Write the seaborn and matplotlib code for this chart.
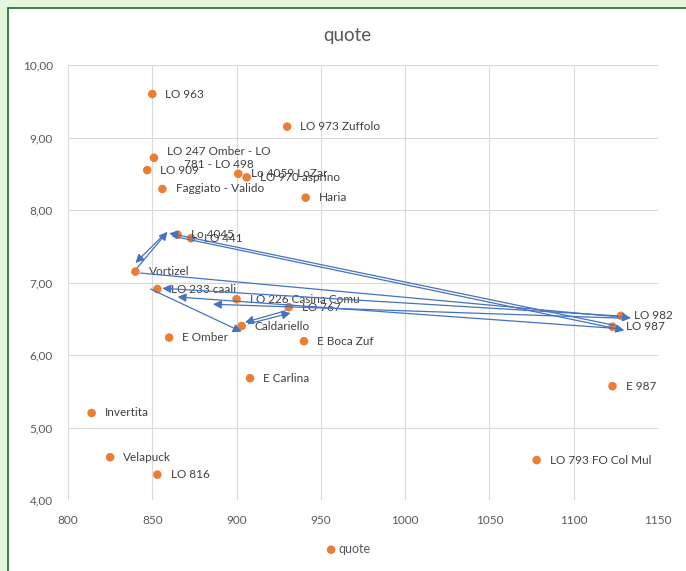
import matplotlib
matplotlib.use("Agg")
import matplotlib.pyplot as plt
from matplotlib.patches import Rectangle
from matplotlib.lines import Line2D
from matplotlib.ticker import FuncFormatter
import seaborn as sns
import pandas as pd

# --- data -------------------------------------------------------------
etichette = [
    "LO 963", "LO 973 Zuffolo", "LO 247 Omber - LO\n781 - LO 498", "LO 909",
    "Lo 4059 LoZar", "LO 970 asprino", "Faggiato - Valido", "Haria",
    "Lo 4045", "LO 441", "Vortizel", "LO 233 caali", "LO 226 Casina Comu",
    "LO 767", "Caldariello", "E Omber", "E Boca Zuf", "E Carlina",
    "Invertita", "Velapuck", "LO 816", "LO 982", "LO 987", "E 987",
    "LO 793 FO Col Mul",
]
altitudine = [850, 930, 851, 847, 901, 906, 856, 941, 865, 873, 840, 853, 900,
              931, 903, 860, 940, 908, 814, 825, 853, 1128, 1123, 1123, 1078]
quote = [9.60, 9.15, 8.72, 8.55, 8.50, 8.45, 8.29, 8.17, 7.66, 7.61, 7.15, 6.91,
         6.77, 6.66, 6.40, 6.24, 6.19, 5.68, 5.20, 4.59, 4.35, 6.54, 6.39, 5.57,
         4.55]

# percorso tracciato a mano sopra il grafico: (x0, y0) -> (x1, y1)
frecce_x0 = [841, 856, 862, 1124, 843, 1126, 1123, 1126, 849, 907, 929]
frecce_y0 = [7.20, 7.64, 7.64, 6.41, 7.13, 6.54, 6.37, 6.51, 6.91, 6.43, 6.61]
frecce_x1 = [859, 840, 1130, 860, 1134, 856, 865, 886, 903, 932, 905]
frecce_y1 = [7.70, 7.27, 6.34, 7.68, 6.51, 6.92, 6.80, 6.70, 6.32, 6.58, 6.45]

xticks = [800, 850, 900, 950, 1000, 1050, 1100, 1150]
yticks = [4, 5, 6, 7, 8, 9, 10]

df = pd.DataFrame({"altitudine": altitudine, "quote": quote, "nome": etichette})

# --- style --------------------------------------------------------------
sns.set_theme(style="white")
plt.rcParams["font.family"] = ["Lato", "DejaVu Sans"]

GRIGIO = "#595959"
ARANCIO = "#ED7D31"
BLU = "#4472C4"

fig = plt.figure(figsize=(6.86, 5.71), dpi=100, facecolor="#E4F5E0")

# chart area with the green frame on the left and top
fig.patches.append(Rectangle((9 / 686, 0), 1 - 9 / 686, 1 - 9 / 571,
                             transform=fig.transFigure, facecolor="white",
                             edgecolor="none", zorder=-10))
fig.lines.append(Line2D([8 / 686, 8 / 686], [0, 1 - 8 / 571],
                        transform=fig.transFigure, color="#1F6E2A", lw=1.2,
                        zorder=-9))
fig.lines.append(Line2D([8 / 686, 1], [1 - 8 / 571, 1 - 8 / 571],
                        transform=fig.transFigure, color="#1F6E2A", lw=1.2,
                        zorder=-9))

ax = fig.add_axes([68 / 686, 1 - 500 / 571, 590 / 686, 435 / 571])
ax.set_facecolor("none")

sns.scatterplot(data=df, x="altitudine", y="quote", color=ARANCIO, s=38,
                edgecolor="none", ax=ax, label="quote", zorder=3)

for nome, xv, yv in zip(etichette, altitudine, quote):
    ax.annotate(nome, (xv, yv), xytext=(9.5, 0), textcoords="offset points",
                ha="left", va="center", multialignment="center",
                fontsize=8.5, color="#404040", zorder=4)

for x0, y0, x1, y1 in zip(frecce_x0, frecce_y0, frecce_x1, frecce_y1):
    ax.annotate("", xy=(x1, y1), xytext=(x0, y0),
                arrowprops=dict(arrowstyle="-|>", color=BLU, lw=0.9,
                                mutation_scale=12.5, shrinkA=0, shrinkB=0),
                zorder=5)

ax.set_xlim(800, 1150)
ax.set_ylim(4, 10)
ax.set_xticks(xticks)
ax.set_yticks(yticks)
ax.yaxis.set_major_formatter(FuncFormatter(lambda v, p: f"{v:.2f}".replace(".", ",")))
ax.grid(True, color="#D9D9D9", lw=0.8)
ax.set_axisbelow(True)
for s in ax.spines.values():
    s.set_visible(False)
ax.tick_params(length=0, labelsize=8.5, labelcolor=GRIGIO, pad=11)
ax.set_xlabel("")
ax.set_ylabel("")

handles, labels = ax.get_legend_handles_labels()
ax.get_legend().remove()
fig.legend(handles, labels, loc="center", bbox_to_anchor=(0.507, 1 - 549 / 571),
           frameon=False, fontsize=9, labelcolor=GRIGIO, handletextpad=0.1,
           handlelength=1.0, markerscale=1.0)

fig.text(0.507, 1 - 35 / 571, "quote", ha="center", va="center",
         fontsize=13.5, color=GRIGIO)

fig.savefig("out.png", dpi=100, facecolor=fig.get_facecolor())
